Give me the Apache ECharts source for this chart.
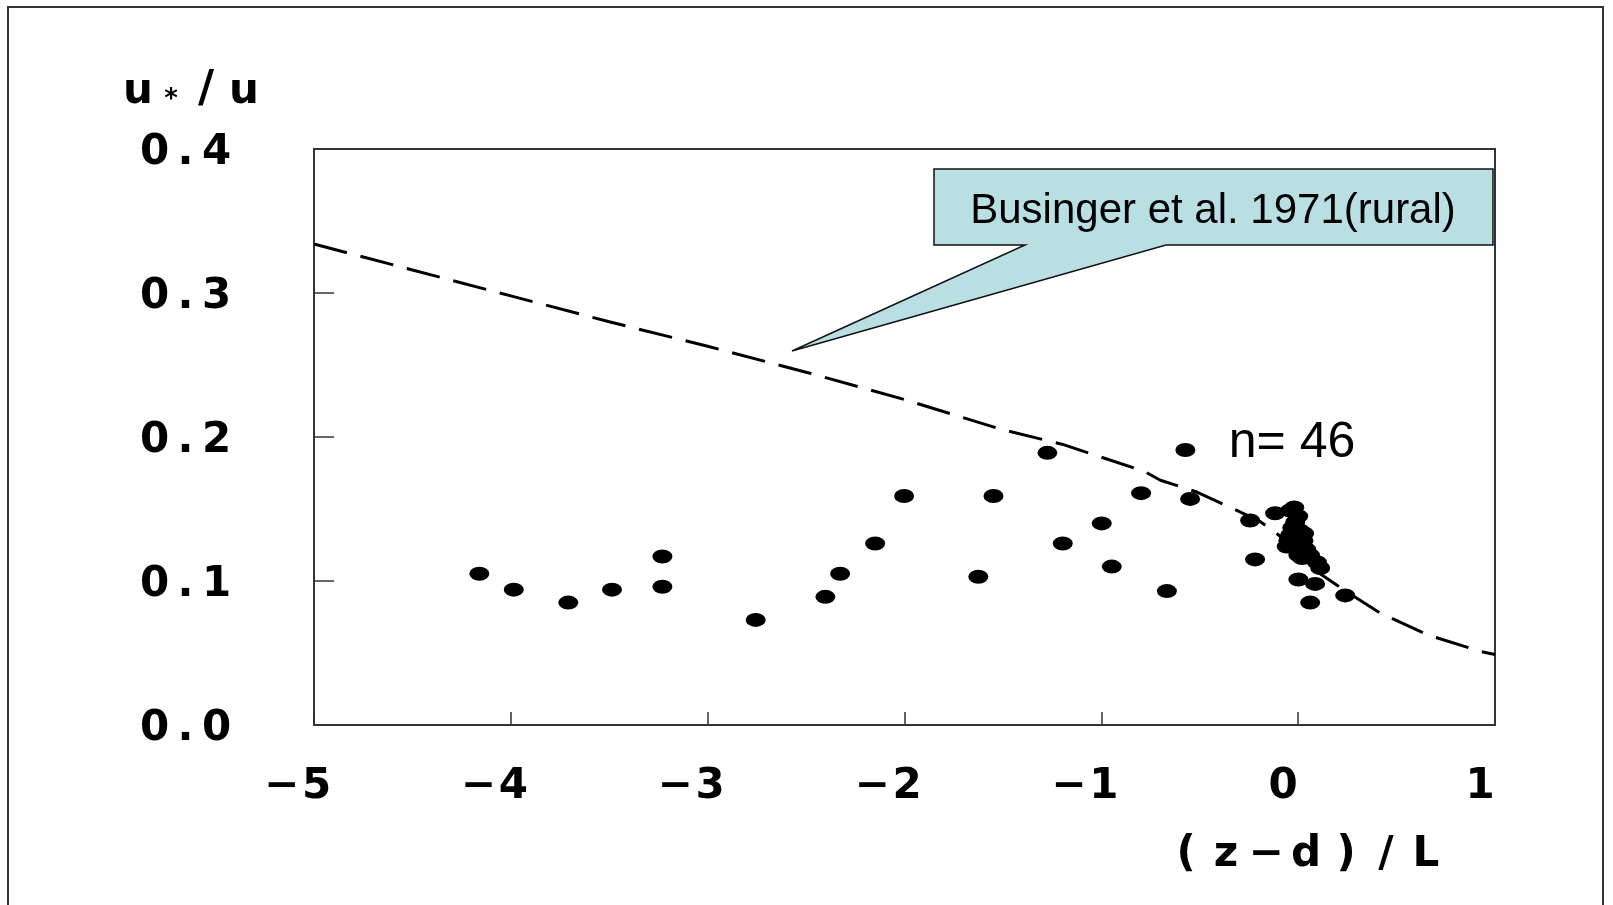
<!DOCTYPE html>
<html>
<head>
<meta charset="utf-8">
<script src="https://cdn.jsdelivr.net/npm/echarts@6/dist/echarts.min.js"></script>
<style>
  html, body { margin: 0; padding: 0; background: #ffffff; }
  #chart { width: 1613px; height: 905px; }
</style>
</head>
<body>
<div id="chart"></div>
<script>
// Observed values: stability parameter (z-d)/L and friction velocity ratio u*/u
const obsX = [
  -4.16, -3.985, -3.708, -3.486, -3.23, -3.23, -2.756, -2.402, -2.327, -2.149, -2.002,
  -1.625, -1.548, -1.274, -1.196, -0.998, -0.947, -0.798, -0.667, -0.573, -0.549,
  -0.244, -0.219, -0.117, -0.041, -0.015, -0.041, 0.027, -0.058, 0.001, 0.095,
  0.112, 0.001, 0.086, 0.061, 0.239,
  -0.02, 0.0, -0.03, 0.01, 0.03, -0.01, 0.04, -0.05, 0.02, 0.06
];
const obsY = [
  0.105, 0.094, 0.085, 0.094, 0.117, 0.096, 0.073, 0.089, 0.105, 0.126, 0.159,
  0.103, 0.159, 0.189, 0.126, 0.140, 0.110, 0.161, 0.093, 0.191, 0.157,
  0.142, 0.115, 0.147, 0.149, 0.141, 0.132, 0.128, 0.124, 0.118, 0.113,
  0.109, 0.101, 0.098, 0.085, 0.090,
  0.151, 0.145, 0.137, 0.135, 0.133, 0.127, 0.122, 0.128, 0.116, 0.118
];

// Businger et al. (1971) rural reference curve
const curveX = [-5, -4.5, -4, -3.5, -3, -2.5, -2, -1.5, -1.2, -1, -0.78, -0.7, -0.52, -0.28, -0.19, -0.1, 0, 0.1, 0.23, 0.42, 0.66, 0.93, 1.0];
const curveY = [0.334, 0.316, 0.298, 0.280, 0.263, 0.245, 0.226, 0.205, 0.195, 0.186, 0.176, 0.170, 0.162, 0.147, 0.141, 0.132, 0.119, 0.106, 0.094, 0.0775, 0.0625, 0.051, 0.049];

// Axis tick labels
const xTicks = [-5, -4, -3, -2, -1, 0, 1];
const xTickLabels = ['\u22125', '\u22124', '\u22123', '\u22122', '\u22121', '0', '1'];
const yTicks = [0, 0.1, 0.2, 0.3, 0.4];
const yTickLabels = ['0.0', '0.1', '0.2', '0.3', '0.4'];

const sampleCount = 46;
const curveLabel = 'Businger et al. 1971(rural)';
const xTitle = '(z\u2212d)/L';

// Each character sits in its own fixed-width cell (wide gothic look)
const cells = (s, tag) => s.split('').map(ch => '{' + tag + '|' + ch + '}').join('');

const chart = echarts.init(document.getElementById('chart'), null, { renderer: 'canvas' });

const tickCell = {
  fontFamily: 'DejaVu Sans', fontWeight: 'bold', fontSize: 42, color: '#000',
  align: 'center', lineHeight: 40
};
const titleFont = { fontFamily: 'DejaVu Sans', fontWeight: 'bold', fill: '#000', color: '#000', align: 'center' };

const option = {
  animation: false,
  backgroundColor: '#ffffff',
  grid: {
    left: 314, right: 118, top: 149, bottom: 180,
    show: true, borderColor: '#333', borderWidth: 2, backgroundColor: 'transparent'
  },
  xAxis: {
    type: 'value', min: -5, max: 1, interval: 1,
    axisLine: { show: true, onZero: false, lineStyle: { color: '#333', width: 2 } },
    axisTick: { show: true, inside: true, length: 13, lineStyle: { color: '#333', width: 1.5 } },
    splitLine: { show: false },
    axisLabel: {
      margin: 42,
      padding: [0, 30, 0, 0],
      formatter: v => cells(xTickLabels[xTicks.indexOf(Math.round(v))], 'c'),
      rich: { c: Object.assign({}, tickCell, { width: 35 }) }
    }
  },
  yAxis: {
    type: 'value', min: 0, max: 0.4, interval: 0.1,
    axisLine: { show: true, onZero: false, lineStyle: { color: '#333', width: 2 } },
    axisTick: { show: true, inside: true, length: 20, lineStyle: { color: '#333', width: 1.5 } },
    splitLine: { show: false },
    axisLabel: {
      margin: 82,
      padding: [8, 0, 0, 0],
      formatter: v => cells(yTickLabels[Math.round(v * 10)], 'c'),
      rich: { c: Object.assign({}, tickCell, { width: 31 }) }
    }
  },
  series: [
    {
      type: 'line',
      data: curveX.map((x, i) => [x, curveY[i]]),
      showSymbol: false,
      symbol: 'none',
      lineStyle: { color: '#000', width: 3, type: [34, 14] },
      z: 2,
      silent: true
    },
    {
      type: 'scatter',
      data: obsX.map((x, i) => [x, obsY[i]]),
      symbol: 'path://M0,5a5,5 0 1,0 10,0a5,5 0 1,0 -10,0Z',
      symbolSize: [20, 14],
      itemStyle: { color: '#000', opacity: 1 },
      z: 3,
      silent: true
    }
  ],
  graphic: [
    // outer frame
    {
      type: 'rect', z: 0,
      shape: { x: 8, y: 7, width: 1595, height: 920 },
      style: { fill: 'none', stroke: '#333', lineWidth: 2 }
    },
    // callout pointing at the reference curve
    {
      type: 'polygon', z: 10,
      shape: { points: [[934, 169], [1493, 169], [1493, 245], [1166, 245], [792, 351], [1025, 245], [934, 245]] },
      style: { fill: '#b9dfe3', stroke: '#111', lineWidth: 1.5 }
    },
    {
      type: 'text', z: 11, x: 1213, y: 211,
      style: {
        text: curveLabel, fill: '#000',
        font: '42px "Liberation Sans", Arial, sans-serif',
        align: 'center', verticalAlign: 'middle'
      }
    },
    {
      type: 'text', z: 11, x: 1292, y: 443,
      style: {
        text: 'n= ' + sampleCount, fill: '#000',
        font: '50px "Liberation Sans", Arial, sans-serif',
        align: 'center', verticalAlign: 'middle'
      }
    },
    // y-axis title u*/u
    {
      type: 'text', z: 11, x: 120, y: 90,
      style: {
        text: '{b|u}{s|*}{l|/}{b|u}',
        align: 'left', verticalAlign: 'middle',
        rich: {
          b: Object.assign({}, titleFont, { fontSize: 42, width: 36, lineHeight: 46, verticalAlign: 'bottom' }),
          l: Object.assign({}, titleFont, { fontSize: 44, width: 40, lineHeight: 46, verticalAlign: 'bottom' }),
          s: Object.assign({}, titleFont, { fontSize: 26, width: 30, lineHeight: 12, verticalAlign: 'bottom' })
        }
      }
    },
    // x-axis title
    {
      type: 'text', z: 11, x: 1306, y: 855,
      style: {
        text: cells(xTitle, 'b'),
        align: 'center', verticalAlign: 'middle',
        rich: {
          b: Object.assign({}, titleFont, { fontSize: 42, width: 40, lineHeight: 44 })
        }
      }
    }
  ]
};

chart.setOption(option);
</script>
</body>
</html>
